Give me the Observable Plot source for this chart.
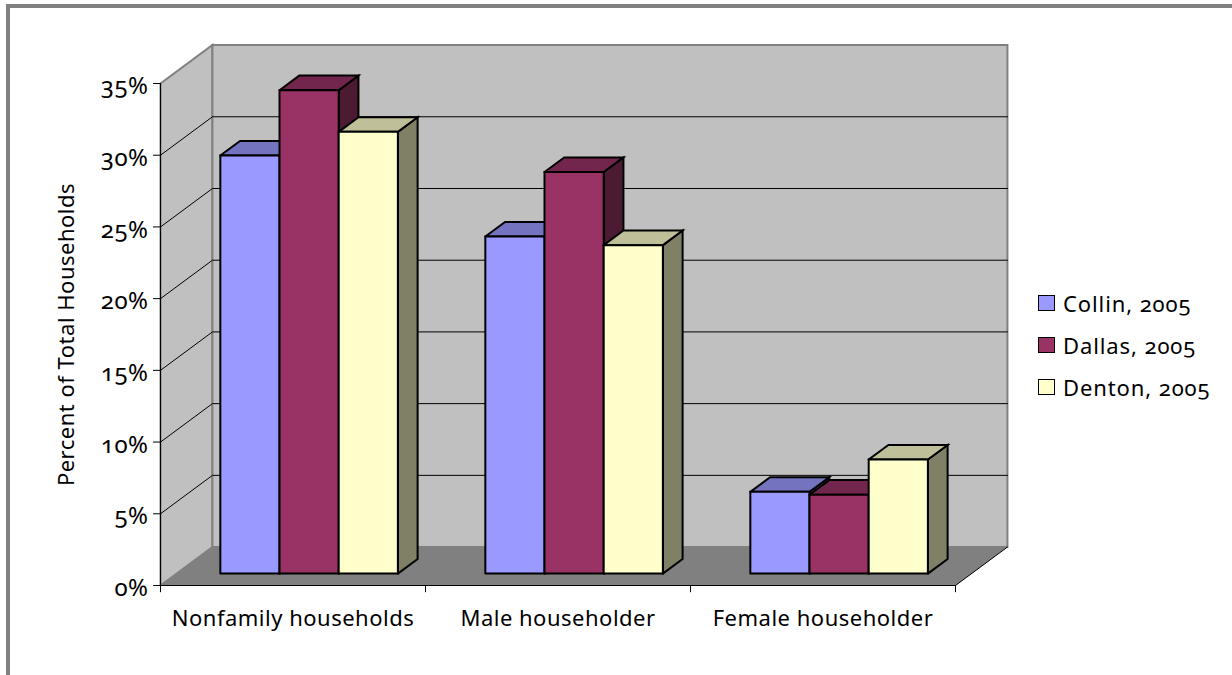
<!DOCTYPE html>
<html><head><meta charset="utf-8">
<script src="https://cdn.jsdelivr.net/npm/d3@7"></script>
<script src="https://cdn.jsdelivr.net/npm/@observablehq/plot@0.6"></script>
<style>
html,body{margin:0;padding:0;background:#fff;width:1232px;height:675px;overflow:hidden}
#chart{position:absolute;left:0;top:0}
#frame{position:absolute;left:6px;top:4px;right:0;bottom:0;border-left:4px solid #808080;border-top:4px solid #808080}
#legend{position:absolute;left:1038px;top:282px;font:22px "Noto Sans",sans-serif;letter-spacing:.9px;font-variant-numeric:oldstyle-nums;color:#000}
#legend div{display:flex;align-items:center;height:42px;white-space:nowrap}
#legend i{display:block;box-sizing:border-box;width:17px;height:16px;border:1.8px solid #000;margin-right:8px}
</style></head><body>
<div id="chart"></div><div id="frame"></div><div id="legend"></div>
<script>
const categories = ["Nonfamily households","Male householder","Female householder"];
const seriesNames = ["Collin, 2005","Dallas, 2005","Denton, 2005"];
const collin = [29.15,23.5,5.7];
const dallas = [33.7,28.0,5.5];
const denton = [30.8,22.9,7.95];
const seriesValues = [collin,dallas,denton];
const frontColors = ["#9999FF","#993366","#FFFFCC"];
const topColors = ["#7373BF","#73264D","#BFBF99"];
const sideColors = ["#4D4D80","#4D1A33","#808066"];
const yTicks = [0,5,10,15,20,25,30,35];
const gridValues = [5,10,15,20,25,30];
const yTop = 35;

// Oblique projection of the 3-D box, in data units
const depthX = 0.196, depthY = 2.68;       // full floor depth in x-units and percent
const gap = 0.67, barW = gap/3;            // bar width as a share of a category
const z0 = 0.31, z1 = 0.69;                // bar front/back within floor depth
const P = (u,v,z,id,color) => ({x:u+z*depthX, y:v+z*depthY, id, color});
const poly = (id,color,pts) => [...pts,pts[0]].map(([u,v,z]) => P(u,v,z,id,color));
const n = categories.length;

const walls = [
  ...poly("left","#C0C0C0",[[0,0,0],[0,yTop,0],[0,yTop,1],[0,0,1]]),
  ...poly("back","#C0C0C0",[[0,0,1],[n,0,1],[n,yTop,1],[0,yTop,1]])
];
const floor = poly("floor","#808080",[[0,0,0],[n,0,0],[n,0,1],[0,0,1]]);
const grid = gridValues.flatMap(v => [[0,v,0],[0,v,1],[n,v,1]].map(([u,w,z]) => P(u,w,z,"g"+v)));
const edges = [[n,0,0],[n,0,1]].map(([u,v,z]) => P(u,v,z,"edge"));

const faces = [];
categories.forEach((c,ci) => seriesValues.forEach((vals,si) => {
  const v = vals[ci], u0 = ci + (1-gap)/2 + si*barW, u1 = u0 + barW, k = ci+"-"+si;
  faces.push(...poly(k+"side",sideColors[si],[[u1,0,z0],[u1,0,z1],[u1,v,z1],[u1,v,z0]]));
  faces.push(...poly(k+"top",topColors[si],[[u0,v,z0],[u1,v,z0],[u1,v,z1],[u0,v,z1]]));
  faces.push(...poly(k+"front",frontColors[si],[[u0,0,z0],[u1,0,z0],[u1,v,z0],[u0,v,z0]]));
}));

const poly3 = {x:"x",y:"y",z:"id",curve:"linear",strokeLinejoin:"miter",strokeMiterlimit:4};
const font = '"Noto Sans",sans-serif';

const plot = Plot.plot({
  width:1232,height:675,
  marginLeft:160,marginRight:277,marginTop:83,marginBottom:90,
  style:{background:"transparent",fontFamily:font,fontVariantNumeric:"oldstyle-nums",color:"#000",letterSpacing:"0.5px"},
  x:{domain:[0,n],axis:null},
  y:{domain:[0,yTop],axis:null},
  color:{type:"identity"},
  marks:[
    Plot.line(walls,{...poly3,fill:"color",stroke:"#808080",strokeWidth:2}),
    Plot.line(floor,{...poly3,fill:"color",stroke:"none"}),
    Plot.line(grid,{...poly3,stroke:"#000",strokeWidth:1}),
    Plot.line(edges,{...poly3,stroke:"#000",strokeWidth:1}),
    Plot.ruleX([0],{y1:0,y2:yTop,stroke:"#000",strokeWidth:1}),
    Plot.ruleY([0],{x1:0,x2:n,stroke:"#000",strokeWidth:1.2}),
    Plot.ruleX(d3.range(n+1),{y1:0,y2:-0.5,stroke:"#000",strokeWidth:1}),
    Plot.line(faces,{...poly3,fill:"color",stroke:"#000",strokeWidth:2}),
    Plot.axisY({ticks:yTicks,tickFormat:()=>"",tickSize:7,fontSize:22,
      label:"Percent of Total Households",labelAnchor:"center",labelArrow:"none",labelOffset:102}),
    Plot.axisY({ticks:yTicks,tickFormat:d=>d+"%",tickSize:0,tickPadding:12,fontSize:24,
      fontVariant:"oldstyle-nums",label:null,dy:3}),
    Plot.text(categories,{x:(d,i)=>i+0.5,y:()=>0,text:d=>d,dy:33,fontSize:22,textAnchor:"middle",fill:"#000"})
  ]
});
document.getElementById("chart").append(plot);

const lg = document.getElementById("legend");
seriesNames.forEach((s,i)=>{
  const row = document.createElement("div");
  const sw = document.createElement("i"); sw.style.background = frontColors[i];
  row.append(sw, document.createTextNode(s));
  lg.append(row);
});
</script>
</body></html>
